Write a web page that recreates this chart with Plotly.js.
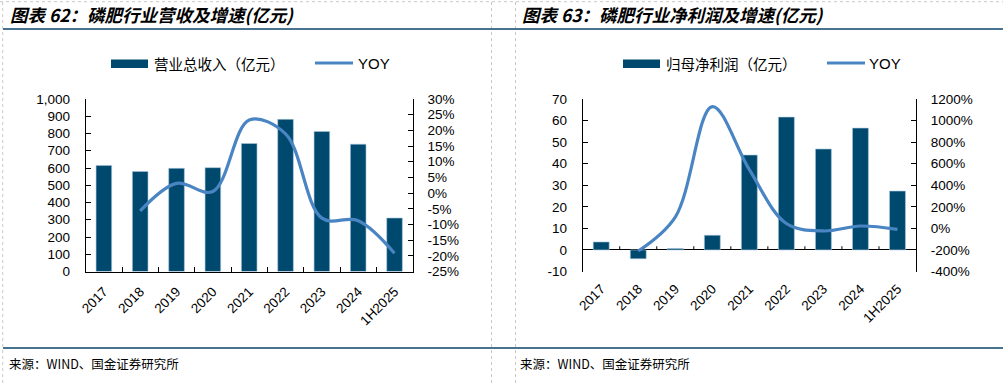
<!DOCTYPE html>
<html><head><meta charset="utf-8">
<script src="https://cdn.plot.ly/plotly-3.0.1.min.js"></script>
<style>html,body{margin:0;padding:0;background:#fff;} #chart{width:1003px;height:383px;}</style>
</head><body><div id="chart"></div>
<script>
// ---- data ----
const categories = ['2017','2018','2019','2020','2021','2022','2023','2024','1H2025'];
const revenue = [615, 580, 598, 602, 742, 882, 812, 738, 310];
const revenueYoy = [null, -5.7, 3.1, 0.5, 23.3, 18.9, -8.0, -8.8, -19.2];
const profit = [3.7, -4.1, 0.7, 6.8, 44.0, 61.6, 46.8, 56.5, 27.3];
const profitYoy = [null, -210, 105, 1130, 545, 45, -24, 22, -9];

const revTickVals = [0,100,200,300,400,500,600,700,800,900,1000];
const revTickText = ['0','100','200','300','400','500','600','700','800','900','1,000'];
const revYoyTickVals = [-25,-20,-15,-10,-5,0,5,10,15,20,25,30];
const revYoyTickText = ['-25%','-20%','-15%','-10%','-5%','0%','5%','10%','15%','20%','25%','30%'];
const profitTickVals = [-10,0,10,20,30,40,50,60,70];
const profitTickText = ['-10','0','10','20','30','40','50','60','70'];
const profitYoyTickVals = [-400,-200,0,200,400,600,800,1000,1200];
const profitYoyTickText = ['-400%','-200%','0%','200%','400%','600%','800%','1000%','1200%'];

const titleLeft = '图表 62：磷肥行业营收及增速(亿元)';
const titleRight = '图表 63：磷肥行业净利润及增速(亿元)';
const barNameLeft = '营业总收入（亿元）';
const barNameRight = '归母净利润（亿元）';
const lineName = 'YOY';
const sourceText = '来源：WIND、国金证券研究所';

// ---- style ----
const W = 1003, H = 383;
const px = x => x / W;
const py = y => 1 - y / H;
const BAR = '#00496E';
const LINE = '#4A85C3';
const NAVY = '#0B4468';
const tickFont = {family: 'Liberation Sans, Arial, sans-serif', size: 13.5, color: '#000'};
const cjk = 'Noto Sans CJK SC, sans-serif';

const traces = [
  {type:'bar', x:categories, y:revenue, xaxis:'x', yaxis:'y', name:barNameLeft,
   marker:{color:BAR, line:{color:'#a9c6dc', width:0.6}}, showlegend:false, hoverinfo:'x+y'},
  {type:'scatter', mode:'lines', x:categories, y:revenueYoy, xaxis:'x', yaxis:'y2', name:lineName,
   line:{color:LINE, width:3.2, shape:'spline', smoothing:1}, connectgaps:false, showlegend:false},
  {type:'bar', x:categories, y:profit, xaxis:'x2', yaxis:'y3', name:barNameRight,
   marker:{color:BAR, line:{color:'#a9c6dc', width:0.6}}, showlegend:false},
  {type:'scatter', mode:'lines', x:categories, y:profitYoy, xaxis:'x2', yaxis:'y4', name:lineName,
   line:{color:LINE, width:3.2, shape:'spline', smoothing:1}, connectgaps:false, showlegend:false}
];

const yBase = {showgrid:false, zeroline:false, showline:true, linecolor:'#000', linewidth:1,
  ticks:'inside', ticklen:5, tickcolor:'#000', tickfont:tickFont, ticklabelstandoff:12, fixedrange:true};
const xBase = {type:'category', showgrid:false, zeroline:false, tickangle:-45, tickfont:tickFont,
  range:[-0.5, categories.length - 0.5], fixedrange:true, ticklabelstandoff:6};

const leftDomX = [px(85.7), px(412.7)];
const rightDomX = [px(582.7), px(916)];
const domY = [py(271.5), py(99)];

const shapes = [
  // frame / separators
  {type:'line', xref:'paper', yref:'paper', x0:0, x1:1, y0:py(1.7), y1:py(1.7), line:{color:'#c8c8c8', width:1, dash:'dot'}},
  {type:'line', xref:'paper', yref:'paper', x0:px(2.7), x1:px(2.7), y0:0, y1:1, line:{color:'#c8c8c8', width:1, dash:'dot'}},
  {type:'line', xref:'paper', yref:'paper', x0:px(491.5), x1:px(491.5), y0:0, y1:1, line:{color:'#c8c8c8', width:1, dash:'dot'}},
  {type:'line', xref:'paper', yref:'paper', x0:px(515.5), x1:px(515.5), y0:0, y1:1, line:{color:'#c8c8c8', width:1, dash:'dot'}},
  {type:'line', xref:'paper', yref:'paper', x0:px(3), x1:1, y0:py(29), y1:py(29), line:{color:NAVY, width:1.5}},
  {type:'line', xref:'paper', yref:'paper', x0:px(3), x1:1, y0:py(348), y1:py(348), line:{color:NAVY, width:1.5}},
  // legend symbols
  {type:'rect', xref:'paper', yref:'paper', x0:px(111), x1:px(148), y0:py(68), y1:py(59.5), fillcolor:BAR, line:{width:0}},
  {type:'line', xref:'paper', yref:'paper', x0:px(315), x1:px(353), y0:py(63), y1:py(63), line:{color:LINE, width:3}},
  {type:'rect', xref:'paper', yref:'paper', x0:px(623), x1:px(660), y0:py(68), y1:py(59.5), fillcolor:BAR, line:{width:0}},
  {type:'line', xref:'paper', yref:'paper', x0:px(827), x1:px(865), y0:py(63), y1:py(63), line:{color:LINE, width:3}}
];
// category boundary ticks on the zero line of right chart
for (let i = 1; i < categories.length; i++) {
  shapes.push({type:'line', xref:'x2', yref:'y3', x0:i-0.5, x1:i-0.5, y0:0, y1:1.7, line:{color:'#000', width:1}});
}

const annotations = [
  {text:titleLeft, xref:'paper', yref:'paper', x:px(8), y:py(15), xanchor:'left', yanchor:'middle', showarrow:false,
   font:{family:cjk, size:17.5, weight:'bold', style:'italic', color:'#000'}},
  {text:titleRight, xref:'paper', yref:'paper', x:px(520), y:py(15), xanchor:'left', yanchor:'middle', showarrow:false,
   font:{family:cjk, size:17.5, weight:'bold', style:'italic', color:'#000'}},
  {text:barNameLeft, xref:'paper', yref:'paper', x:px(152), y:py(63), xanchor:'left', yanchor:'middle', showarrow:false,
   font:{family:cjk, size:14.5, color:'#000'}},
  {text:lineName, xref:'paper', yref:'paper', x:px(356), y:py(63), xanchor:'left', yanchor:'middle', showarrow:false,
   font:{family:'Liberation Sans, Arial, sans-serif', size:15, color:'#000'}},
  {text:barNameRight, xref:'paper', yref:'paper', x:px(664), y:py(63), xanchor:'left', yanchor:'middle', showarrow:false,
   font:{family:cjk, size:14.5, color:'#000'}},
  {text:lineName, xref:'paper', yref:'paper', x:px(867), y:py(63), xanchor:'left', yanchor:'middle', showarrow:false,
   font:{family:'Liberation Sans, Arial, sans-serif', size:15, color:'#000'}},
  {text:sourceText, xref:'paper', yref:'paper', x:px(7), y:py(363), xanchor:'left', yanchor:'middle', showarrow:false,
   font:{family:cjk, size:12.5, color:'#000'}},
  {text:sourceText, xref:'paper', yref:'paper', x:px(518), y:py(363), xanchor:'left', yanchor:'middle', showarrow:false,
   font:{family:cjk, size:12.5, color:'#000'}}
];

const layout = {
  width:W, height:H, margin:{l:0, r:0, t:0, b:0},
  paper_bgcolor:'#fff', plot_bgcolor:'rgba(0,0,0,0)',
  bargap:0.57, showlegend:false,
  xaxis: Object.assign({}, xBase, {domain:leftDomX, anchor:'y', showline:true, linecolor:'#000', linewidth:1,
    ticks:'inside', tickson:'boundaries', ticklen:5, tickcolor:'#000'}),
  yaxis: Object.assign({}, yBase, {domain:domY, anchor:'x', range:[0,1000], tickvals:revTickVals, ticktext:revTickText}),
  yaxis2: Object.assign({}, yBase, {domain:domY, anchor:'x', overlaying:'y', side:'right', range:[-25,30],
    tickvals:revYoyTickVals, ticktext:revYoyTickText, ticklabelstandoff:11}),
  xaxis2: Object.assign({}, xBase, {domain:rightDomX, anchor:'y3', showline:false, ticks:''}),
  yaxis3: Object.assign({}, yBase, {domain:domY, anchor:'x2', range:[-10,70], tickvals:profitTickVals, ticktext:profitTickText,
    zeroline:true, zerolinecolor:'#000', zerolinewidth:1}),
  yaxis4: Object.assign({}, yBase, {domain:domY, anchor:'x2', overlaying:'y3', side:'right', range:[-400,1200],
    tickvals:profitYoyTickVals, ticktext:profitYoyTickText, ticklabelstandoff:11}),
  shapes: shapes,
  annotations: annotations
};

Plotly.newPlot('chart', traces, layout, {displayModeBar:false, staticPlot:true});
</script>
</body></html>
